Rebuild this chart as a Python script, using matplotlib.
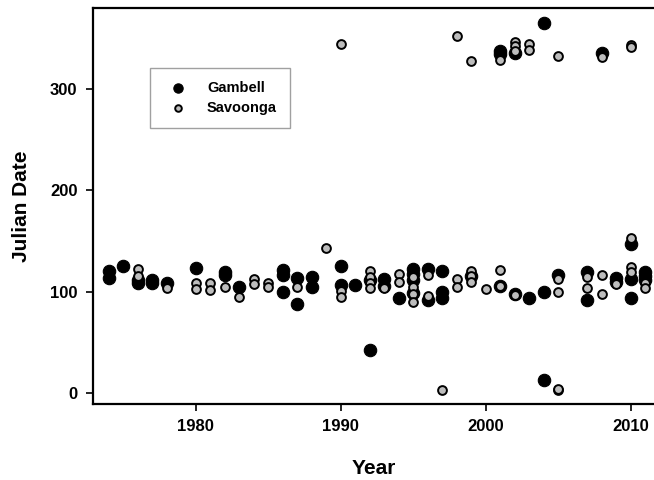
import matplotlib
matplotlib.use("Agg")
import matplotlib.pyplot as plt

plt.rcParams['font.family'] = ['Liberation Sans', 'DejaVu Sans']
plt.rcParams['font.weight'] = 'bold'

# Gambell (black) observations
gam_year = [1974, 1974, 1975, 1976, 1976, 1977, 1977, 1978, 1980, 1982, 1982, 1983,
            1986, 1986, 1986, 1987, 1987, 1988, 1988, 1990, 1990, 1991, 1992, 1992,
            1993, 1993, 1994, 1995, 1995, 1995, 1995, 1996, 1996, 1997, 1997, 1997,
            1999, 2001, 2001, 2001, 2002, 2002, 2003, 2004, 2004, 2004, 2005,
            2007, 2007, 2008, 2009, 2009, 2010, 2010, 2010, 2011, 2011, 2011]
gam_day = [120, 114, 125, 112, 109, 112, 109, 109, 123, 119, 117, 105,
           121, 117, 100, 114, 88, 115, 105, 125, 107, 107, 112, 42,
           113, 106, 94, 122, 118, 112, 99, 122, 92, 120, 100, 94,
           116, 338, 335, 106, 336, 98, 94, 365, 100, 13, 117,
           119, 92, 336, 114, 110, 147, 113, 94, 119, 116, 112]

# Savoonga (grey) observations
sav_year = [1976, 1976, 1978, 1980, 1980, 1981, 1981, 1982, 1983, 1984, 1984,
            1985, 1985, 1987, 1989, 1990, 1990, 1990, 1992, 1992, 1992, 1992,
            1993, 1994, 1994, 1995, 1995, 1995, 1995, 1996, 1996, 1997,
            1998, 1998, 1998, 1999, 1999, 1999, 1999, 2000, 2001, 2001, 2001,
            2002, 2002, 2002, 2002, 2003, 2003, 2005, 2005, 2005, 2005, 2005,
            2007, 2007, 2008, 2008, 2008, 2009, 2010, 2010, 2010, 2010, 2010,
            2011, 2011]
sav_day = [122, 116, 104, 109, 103, 109, 102, 105, 95, 113, 108,
           109, 105, 105, 143, 345, 101, 95, 120, 115, 109, 104,
           104, 118, 110, 115, 105, 98, 90, 117, 96, 3,
           353, 113, 105, 328, 120, 116, 110, 103, 329, 121, 106,
           347, 343, 338, 97, 345, 339, 333, 113, 100, 3, 4,
           115, 104, 332, 117, 98, 108, 344, 342, 153, 124, 119,
           109, 104]

fig = plt.figure(figsize=(6.54, 4.8), dpi=100)
ax = fig.add_axes([0.142, 0.158, 0.858, 0.825])

ax.scatter(gam_year, gam_day, s=80, c='black', edgecolors='black',
           linewidths=0.8, label='Gambell', zorder=3)
ax.scatter(sav_year, sav_day, s=40, c='#bdbdbd', edgecolors='black',
           linewidths=1.4, label='Savoonga', zorder=4)

ax.set_xlim(1972.9, 2011.6)
ax.set_ylim(-11, 380)
ax.set_xticks([1980, 1990, 2000, 2010])
ax.set_yticks([0, 100, 200, 300])
ax.tick_params(direction='out', length=5, width=1.2, labelsize=12, pad=6)
for lab in ax.get_xticklabels() + ax.get_yticklabels():
    lab.set_fontweight('bold')

for side in ['left', 'bottom', 'top']:
    ax.spines[side].set_linewidth(1.6)
ax.spines['right'].set_visible(False)

ax.set_xlabel('Year', fontsize=15, fontweight='bold', labelpad=18)
ax.set_ylabel('Julian Date', fontsize=15, fontweight='bold', labelpad=14)

leg = ax.legend(loc='upper left', bbox_to_anchor=(0.102, 0.85), fancybox=False,
                edgecolor='#888888', fontsize=10.5, borderpad=0.9,
                handletextpad=1.0, labelspacing=0.4, borderaxespad=0,
                markerscale=0.75)
leg.get_frame().set_linewidth(1.0)
for t in leg.get_texts():
    t.set_fontweight('bold')

fig.savefig('out.png', dpi=100)
